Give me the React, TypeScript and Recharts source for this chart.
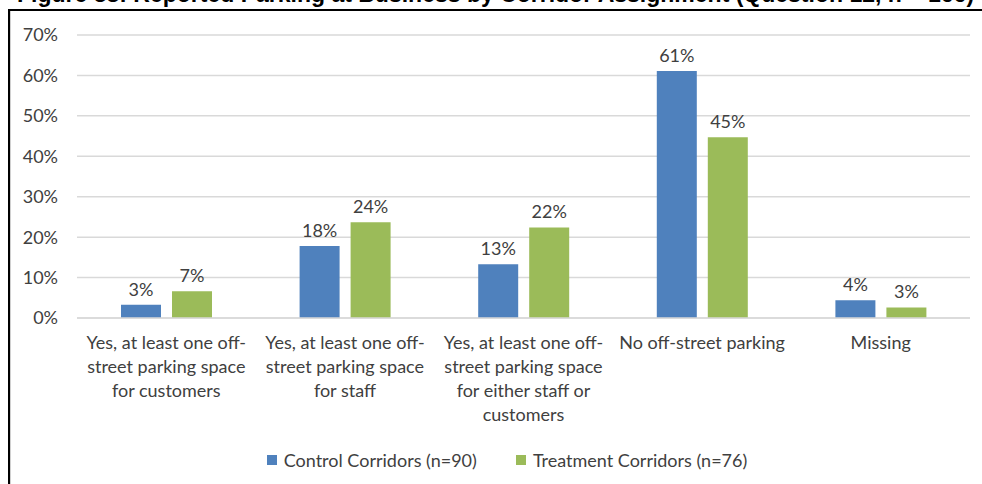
import React from "react";
import { BarChart, Bar, XAxis, YAxis, CartesianGrid, Legend, LabelList } from "recharts";

const categories = [
  "Yes, at least one off-street parking space for customers",
  "Yes, at least one off-street parking space for staff",
  "Yes, at least one off-street parking space for either staff or customers",
  "No off-street parking",
  "Missing",
];

// how each category label wraps in the original
const tickLines = [
  ["Yes, at least one off-", "street parking space", "for customers"],
  ["Yes, at least one off-", "street parking space", "for staff"],
  ["Yes, at least one off-", "street parking space", "for either staff or", "customers"],
  ["No off-street parking"],
  ["Missing"],
];

const control = [3.3, 17.8, 13.3, 61.1, 4.4];
const treatment = [6.6, 23.7, 22.4, 44.7, 2.6];
const yTicks = [0, 10, 20, 30, 40, 50, 60, 70];

const data = categories.map((c, i) => ({
  name: c,
  control: control[i],
  treatment: treatment[i],
}));

const FONT = "Lato, 'Open Sans', sans-serif";
const TEXT = "#404040";
const FS = 18;

const CategoryTick = (props: any) => {
  const { x, y, payload } = props;
  const lines = tickLines[payload.index] || [payload.value];
  return (
    <g transform={`translate(${x},${y})`}>
      {lines.map((l, i) => (
        <text
          key={i}
          x={0}
          y={23 + i * 24}
          textAnchor="middle"
          fill={TEXT}
          fontSize={FS}
          fontFamily={FONT}
        >
          {l}
        </text>
      ))}
    </g>
  );
};

const LegendBox = (props: any) => {
  const items = props.payload || [];
  return (
    <div
      style={{
        height: 46,
        display: "flex",
        justifyContent: "center",
        alignItems: "center",
        paddingBottom: 2,
        paddingLeft: 44,
        boxSizing: "border-box",
        fontFamily: FONT,
        fontSize: FS,
        color: TEXT,
      }}
    >
      {items.map((it: any, i: number) => (
        <div key={i} style={{ display: "flex", alignItems: "center", marginLeft: i ? 39 : 0 }}>
          <span style={{ width: 10, height: 10, background: it.color, marginRight: 7, display: "inline-block" }} />
          <span>{it.value}</span>
        </div>
      ))}
    </div>
  );
};

export default function App() {
  return (
    <div style={{ position: "absolute", left: 0, top: 0, width: 982, height: 484, overflow: "hidden", background: "#fff" }}>
      <div
        style={{
          position: "absolute",
          left: 17,
          top: -19,
          whiteSpace: "nowrap",
          fontFamily: "'Liberation Sans', Arial, sans-serif",
          fontWeight: "bold",
          fontSize: 23,
          color: "#000",
        }}
      >
        Figure 38: Reported Parking at Business by Corridor Assignment (Question 12, n = 166)
      </div>
      <div
        style={{
          position: "absolute",
          left: 8,
          top: 9,
          width: 990,
          height: 490,
          borderTop: "2px solid #000",
          borderLeft: "2px solid #000",
          boxShadow: "inset 1px 0 0 #d0d0d0",
        }}
      />
      <div style={{ position: "absolute", left: 0, top: 0 }}>
        <BarChart
          width={982}
          height={484}
          data={data}
          margin={{ top: 35, right: 12, left: 0, bottom: 0 }}
          barGap={11}
          barSize={40}
        >
          <CartesianGrid vertical={false} stroke="#d9d9d9" strokeWidth={1.5} />
          <YAxis
            width={77}
            domain={[0, 70]}
            ticks={yTicks}
            tickFormatter={(v: number) => `${v}%`}
            axisLine={false}
            tickLine={false}
            tickSize={0}
            tickMargin={19}
            tick={{ fill: TEXT, fontSize: FS, fontFamily: FONT }}
          />
          <XAxis
            dataKey="name"
            interval={0}
            height={120}
            axisLine={{ stroke: "#d9d9d9", strokeWidth: 1.5 }}
            tickLine={false}
            tick={<CategoryTick />}
          />
          <Legend verticalAlign="bottom" align="center" height={46} content={<LegendBox />} />
          <Bar dataKey="control" name="Control Corridors (n=90)" fill="#4f81bd" isAnimationActive={false}>
            <LabelList
              dataKey="control"
              position="top"
              offset={9}
              formatter={(v: any) => `${Math.round(v)}%`}
              style={{ fill: TEXT, fontSize: FS, fontFamily: FONT }}
            />
          </Bar>
          <Bar dataKey="treatment" name="Treatment Corridors (n=76)" fill="#9bbb59" isAnimationActive={false}>
            <LabelList
              dataKey="treatment"
              position="top"
              offset={9}
              formatter={(v: any) => `${Math.round(v)}%`}
              style={{ fill: TEXT, fontSize: FS, fontFamily: FONT }}
            />
          </Bar>
        </BarChart>
      </div>
    </div>
  );
}
